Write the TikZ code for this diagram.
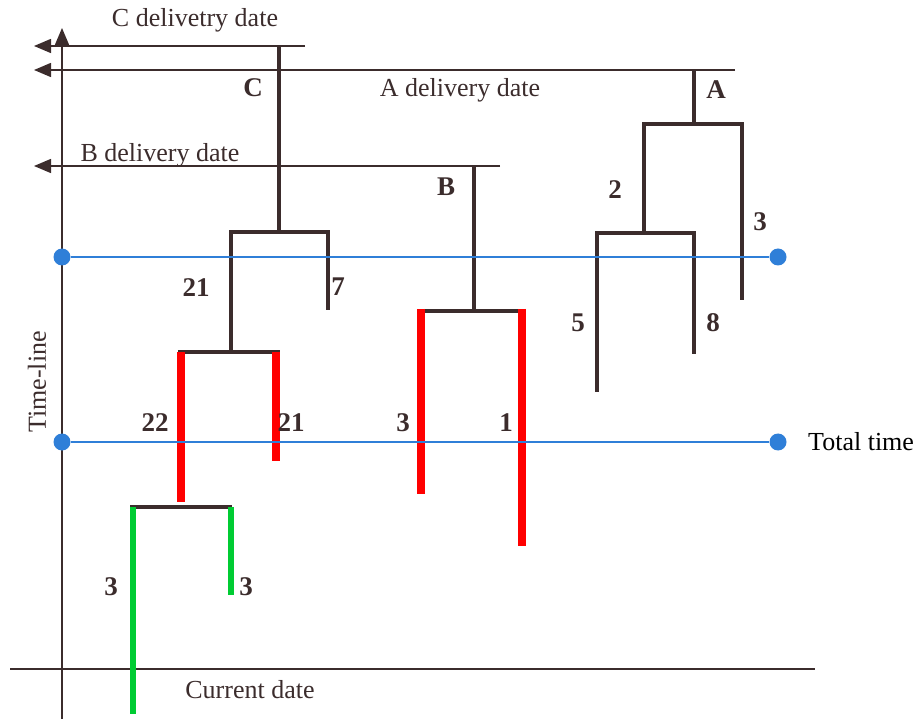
\documentclass[tikz,border=0pt]{standalone}
\usepackage{fontspec}
\setmainfont{Liberation Serif}
\usetikzlibrary{arrows.meta}
\definecolor{ink}{HTML}{3B2C2C}
\definecolor{tblue}{HTML}{2F7FD8}
\definecolor{tred}{HTML}{FF0000}
\definecolor{tgreen}{HTML}{00CC33}
\begin{document}
\begin{tikzpicture}[x=1pt,y=-1pt,
  thin/.style={draw=ink,line width=1.5pt},
  datearrow/.style={thin,-{Triangle[length=17pt,width=14pt]}},
  tree/.style={draw=ink,line width=4pt},
  redleg/.style={draw=tred,line width=8pt},
  greenleg/.style={draw=tgreen,line width=6pt},
  blueline/.style={draw=tblue,line width=2.5pt},
  dot/.style={circle,fill=tblue,inner sep=0pt,minimum size=17pt},
  txt/.style={font=\fontsize{26}{30}\selectfont,text=ink,inner sep=0pt},
  num/.style={font=\fontsize{27}{30}\selectfont\bfseries,text=ink,inner sep=0pt}]
\useasboundingbox (0,0) rectangle (919,719);
% axes
\coordinate (axtop) at (62,28);
\coordinate (axbot) at (62,719);
\draw[thin,-{Triangle[length=17pt,width=14pt]}] (axbot) -- (axtop);
\coordinate (cdl) at (10,669);
\coordinate (cdr) at (815,669);
\draw[thin] (cdl) -- (cdr);
\node[txt] (curdate) at (250,690) {Current date};
\node[txt,rotate=90] (timeline) at (37,382) {Time-line};
% delivery date lines
\coordinate (Ctop) at (279,46);
\coordinate (Cend) at (305,46);
\coordinate (Carr) at (34,46);
\draw[datearrow] (Cend) -- (Carr);
\coordinate (Atop) at (694,70);
\coordinate (Aend) at (735,70);
\coordinate (Aarr) at (34,70);
\draw[datearrow] (Aend) -- (Aarr);
\coordinate (Btop) at (474,166);
\coordinate (Bend) at (500,166);
\coordinate (Barr) at (34,166);
\draw[datearrow] (Bend) -- (Barr);
\node[txt] (Cdd) at (195,20) {C delivetry date};
\node[txt] (Add) at (460,90) {A delivery date};
\node[txt] (Bdd) at (160,155) {B delivery date};
% blue lines
\node[dot] (b1l) at (62,257) {};
\node[dot] (b1r) at (778,257) {};
\node[dot] (b2l) at (62,442) {};
\node[dot] (b2r) at (778,442) {};
% tree A
\coordinate (Ab) at (694,124);
\draw[tree] (Atop) -- (Ab);
\draw[tree] (642,124) -- (744,124);
\draw[tree] (644,124) -- (644,233);
\draw[tree] (742,124) -- (742,300);
\draw[tree] (595,233) -- (696,233);
\draw[tree] (597,233) -- (597,392);
\draw[tree] (694,233) -- (694,354);
\node[num] (lA) at (716,90) {A};
\node[num] (l2) at (615,190) {2};
\node[num] (l3a) at (760,222) {3};
\node[num] (l5) at (578,323) {5};
\node[num] (l8) at (713,323) {8};
% tree B
\coordinate (Bb) at (474,311);
\draw[tree] (Btop) -- (Bb);
\draw[tree] (420,311) -- (522,311);
\draw[redleg] (421,309) -- (421,494);
\draw[redleg] (522,309) -- (522,546);
\node[num] (lB) at (446,187) {B};
\node[num] (l3b) at (403,423) {3};
\node[num] (l1) at (506,423) {1};
% tree C
\coordinate (Cb) at (279,232);
\draw[tree] (Ctop) -- (Cb);
\draw[tree] (229,232) -- (330,232);
\draw[tree] (231,232) -- (231,352);
\draw[tree] (328,232) -- (328,310);
\draw[tree] (178,352) -- (280,352);
\draw[redleg] (181,352) -- (181,502);
\draw[redleg] (276,352) -- (276,461);
\draw[tree] (130,507) -- (232,507);
\draw[greenleg] (133,507) -- (133,714);
\draw[greenleg] (231,507) -- (231,595);
\node[num] (lC) at (253,88) {C};
\node[num] (l21a) at (196,288) {21};
\node[num] (l7) at (338,287) {7};
\node[num] (l22) at (155,423) {22};
\node[num] (l21b) at (291,423) {21};
\node[num] (l3c) at (111,587) {3};
\node[num] (l3d) at (246,587) {3};
% blue lines drawn on top
\draw[blueline] (b1l) -- (b1r);
\draw[blueline] (b2l) -- (b2r);
\node[txt,anchor=west,text=black] (total) at (808,442) {Total time};
\end{tikzpicture}
\end{document}
